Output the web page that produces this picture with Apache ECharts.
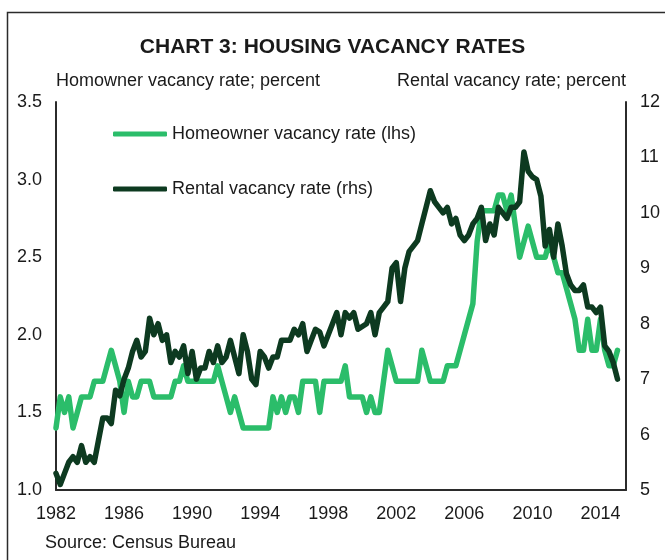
<!DOCTYPE html>
<html>
<head>
<meta charset="utf-8">
<title>Housing vacancy rates</title>
<script src="https://cdn.jsdelivr.net/npm/echarts@6.0.0/dist/echarts.min.js"></script>
<style>
  html, body { margin: 0; padding: 0; background: #fff; }
  #chart3 { width: 665px; height: 560px; }
</style>
</head>
<body>
<div id="chart3"></div>
<script>
/* data: quarterly, 1982Q1 - 2015Q1 */
var startYear = 1982;
var endYear = 2015;

var homeowner = [
	1.4, 1.6, 1.5, 1.6,   // 1982
	1.4, 1.5, 1.6, 1.6,
	1.6, 1.7, 1.7, 1.7,
	1.8, 1.9, 1.8, 1.7,
	1.5, 1.7, 1.6, 1.6,   // 1986
	1.7, 1.7, 1.7, 1.6,
	1.6, 1.6, 1.6, 1.6,
	1.7, 1.7, 1.8, 1.7,
	1.7, 1.7, 1.7, 1.7,   // 1990
	1.7, 1.7, 1.8, 1.7,
	1.6, 1.5, 1.6, 1.5,
	1.4, 1.4, 1.4, 1.4,
	1.4, 1.4, 1.4, 1.6,   // 1994
	1.5, 1.6, 1.5, 1.6,
	1.6, 1.5, 1.7, 1.7,
	1.7, 1.7, 1.5, 1.7,
	1.7, 1.7, 1.7, 1.7,   // 1998
	1.8, 1.6, 1.6, 1.6,
	1.6, 1.5, 1.6, 1.5,
	1.5, 1.7, 1.9, 1.8,
	1.7, 1.7, 1.7, 1.7,   // 2002
	1.7, 1.7, 1.9, 1.8,
	1.7, 1.7, 1.7, 1.7,
	1.8, 1.8, 1.8, 1.9,
	2.0, 2.1, 2.2, 2.6,   // 2006
	2.8, 2.8, 2.8, 2.8,
	2.9, 2.9, 2.8, 2.9,
	2.7, 2.5, 2.6, 2.7,
	2.6, 2.5, 2.5, 2.5,   // 2010
	2.6, 2.5, 2.4, 2.4,
	2.3, 2.2, 2.1, 1.9,
	1.9, 2.1, 1.9, 1.9,
	2.1, 1.9, 1.8, 1.8,   // 2014
	1.9
];

var rental = [
	5.3, 5.1, 5.3, 5.5,   // 1982
	5.6, 5.5, 5.8, 5.5,
	5.6, 5.5, 5.9, 6.3,
	6.3, 6.2, 6.8, 6.7,
	7.0, 7.2, 7.5, 7.7,   // 1986
	7.4, 7.5, 8.1, 7.8,
	8.0, 7.7, 7.8, 7.3,
	7.5, 7.4, 7.6, 7.1,
	7.5, 7.0, 7.2, 7.2,   // 1990
	7.5, 7.3, 7.6, 7.3,
	7.4, 7.7, 7.4, 7.1,
	7.8, 7.5, 7.0, 6.9,
	7.5, 7.4, 7.2, 7.4,   // 1994
	7.4, 7.7, 7.7, 7.7,
	7.9, 7.8, 8.0, 7.5,
	7.7, 7.9, 7.85, 7.6,
	7.8, 8.0, 8.2, 7.8,   // 1998
	8.2, 8.1, 8.2, 7.9,
	7.95, 8.0, 8.2, 7.8,
	8.2, 8.3, 8.4, 9.0,
	9.1, 8.4, 9.0, 9.3,   // 2002
	9.4, 9.5, 9.8, 10.1,
	10.4, 10.2, 10.1, 10.0,
	10.1, 9.8, 9.9, 9.6,
	9.5, 9.6, 9.8, 9.9,   // 2006
	10.1, 9.5, 9.8, 9.6,
	10.1, 10.0, 9.9, 10.1,
	10.1, 10.2, 11.1, 10.75,
	10.65, 10.6, 10.3, 9.4,   // 2010
	9.7, 9.2, 9.8, 9.4,
	8.9, 8.7, 8.6, 8.6,
	8.7, 8.3, 8.3, 8.2,
	8.3, 7.6, 7.5, 7.3,   // 2014
	7.0
];

var leftTicks = { min: 1.0, max: 3.5, step: 0.5 };
var rightTicks = { min: 5, max: 12, step: 1 };

/* quarter labels, the axis runs two quarters past the last point */
var quarters = [];
for (var y = startYear; y <= endYear; y++) {
	for (var q = 1; q <= 4; q++) {
		quarters.push(y + ' Q' + q);
	}
}
quarters = quarters.slice(0, homeowner.length + 2);

var font = 'Liberation Sans Narrow, Arial Narrow, Liberation Sans, Arial, sans-serif';
var axisColor = '#2b2b2b';
var textColor = '#1a1a1a';
var fs = 18;

var chart = echarts.init(document.getElementById('chart3'), null, { renderer: 'canvas' });
var option = {
	animation: false,
	backgroundColor: '#fff',
	textStyle: { fontFamily: font, color: textColor },
	title: {
		text: 'CHART 3: HOUSING VACANCY RATES',
		left: 'center',
		top: 37,
		padding: 0,
		textStyle: {
			fontFamily: font,
			fontSize: 21,
			fontWeight: 'bold',
			color: textColor
		}
	},
	legend: {
		orient: 'vertical',
		left: 113,
		top: 124,
		padding: 0,
		itemWidth: 54,
		itemHeight: 5,
		itemGap: 35,
		icon: 'roundRect',
		textStyle: {
			fontFamily: font,
			fontSize: fs,
			color: textColor,
			lineHeight: 20
		},
		data: ['Homeowner vacancy rate (lhs)', 'Rental vacancy rate (rhs)']
	},
	grid: {
		left: 56,
		right: 39,
		top: 102,
		bottom: 70,
		containLabel: false
	},
	xAxis: {
		type: 'category',
		data: quarters,
		boundaryGap: false,
		axisLine: { lineStyle: { color: axisColor, width: 2 } },
		axisTick: { show: false },
		axisLabel: {
			interval: function (idx) { return idx % 16 === 0; },
			formatter: function (v) { return v.slice(0, 4); },
			fontFamily: font,
			fontSize: fs,
			color: textColor,
			margin: 15
		},
		splitLine: { show: false }
	},
	yAxis: [{
		type: 'value',
		min: leftTicks.min,
		max: leftTicks.max,
		interval: leftTicks.step,
		position: 'left',
		name: 'Homowner vacancy rate; percent',
		nameLocation: 'end',
		nameGap: 21,
		nameTextStyle: {
			fontFamily: font,
			fontSize: fs,
			color: textColor,
			align: 'left',
			verticalAlign: 'middle'
		},
		axisLine: { show: true, lineStyle: { color: axisColor, width: 2 } },
		axisTick: { show: false },
		axisLabel: {
			formatter: function (v) { return v.toFixed(1); },
			fontFamily: font,
			fontSize: fs,
			color: textColor,
			margin: 14
		},
		splitLine: { show: false }
	}, {
		type: 'value',
		min: rightTicks.min,
		max: rightTicks.max,
		interval: rightTicks.step,
		position: 'right',
		name: 'Rental vacancy rate; percent',
		nameLocation: 'end',
		nameGap: 21,
		nameTextStyle: {
			fontFamily: font,
			fontSize: fs,
			color: textColor,
			align: 'right',
			verticalAlign: 'middle'
		},
		axisLine: { show: true, lineStyle: { color: axisColor, width: 2 } },
		axisTick: { show: false },
		axisLabel: {
			fontFamily: font,
			fontSize: fs,
			color: textColor,
			margin: 14
		},
		splitLine: { show: false }
	}],
	graphic: [{
		/* frame round the whole chart, right and bottom edges fall off the page */
		type: 'rect',
		shape: { x: 7.5, y: 12.5, width: 700, height: 600 },
		style: { fill: 'none', stroke: '#2b2b2b', lineWidth: 1.5 },
		z: 100
	}, {
		type: 'text',
		left: 45,
		top: 534,
		style: {
			text: 'Source: Census Bureau',
			fontFamily: font,
			fontSize: fs,
			fill: textColor
		}
	}],
	series: [{
		name: 'Homeowner vacancy rate (lhs)',
		type: 'line',
		yAxisIndex: 0,
		data: homeowner,
		showSymbol: false,
		color: '#2bbd6a',
		lineStyle: { width: 5.5, color: '#2bbd6a', join: 'round', cap: 'round' },
		z: 2
	}, {
		name: 'Rental vacancy rate (rhs)',
		type: 'line',
		yAxisIndex: 1,
		data: rental,
		showSymbol: false,
		color: '#0d3a20',
		lineStyle: { width: 5.5, color: '#0d3a20', join: 'round', cap: 'round' },
		z: 3
	}]
};
chart.setOption(option);
</script>
</body>
</html>
